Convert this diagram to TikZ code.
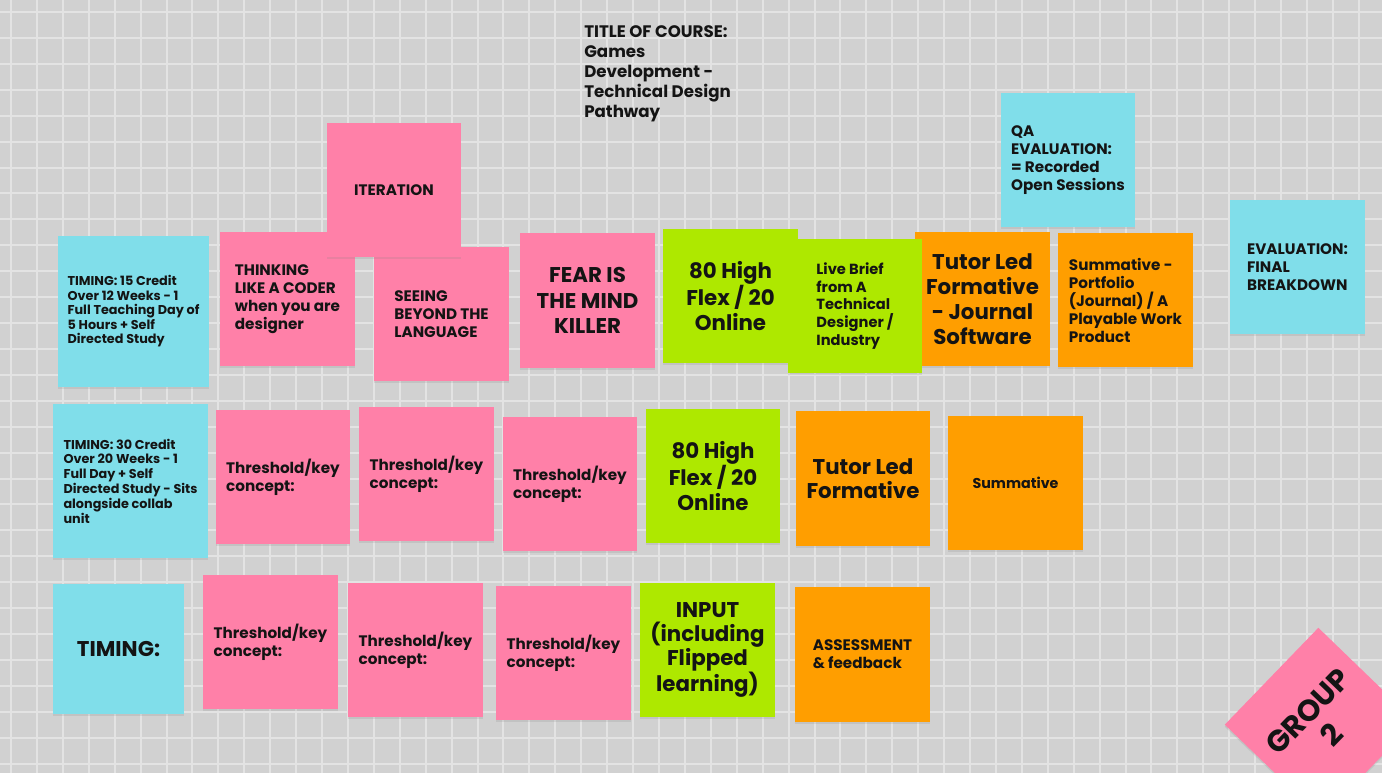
\documentclass[tikz,border=0pt]{standalone}
\usepackage{fontspec}
\setmainfont{Poppins}[UprightFont={* Bold},BoldFont={* Bold}]
\usepackage{xcolor}
\usepackage{tikz}
\usetikzlibrary{positioning,shadows}
\definecolor{boardgrey}{HTML}{D1D1D1}
\definecolor{gridgrey}{HTML}{E3E3E3}
\definecolor{notepink}{HTML}{FF80A8}
\definecolor{notecyan}{HTML}{80DEEA}
\definecolor{notegreen}{HTML}{AEE800}
\definecolor{noteorange}{HTML}{FF9E00}
\tikzset{
  stickynote/.style={inner sep=0pt,minimum width=101pt,minimum height=101pt,align=left,
    text=black!92,drop shadow={shadow xshift=0pt,shadow yshift=-1.5pt,opacity=.18}},
  pinknote/.style={stickynote,fill=notepink},
  cyannote/.style={stickynote,fill=notecyan},
  greennote/.style={stickynote,fill=notegreen},
  orangenote/.style={stickynote,fill=noteorange},
  smalltext/.style={font=\fontsize{9.6}{10.9}\selectfont},
  midtext/.style={font=\fontsize{11.4}{13.5}\selectfont},
  bigtext/.style={font=\fontsize{16}{18.9}\selectfont,align=center},
  gridline/.style={draw=gridgrey,line width=1.5pt}
}

\begin{document}
\begin{tikzpicture}[x=0.75pt,y=-0.75pt]
  \useasboundingbox (0,0) rectangle (1382,773);
  \clip (0,0) rectangle (1382,773);
  \fill[boardgrey] (0,0) rectangle (1382,773);
  \foreach \i in {0,...,52}
    \draw[gridline] ({11+25.92*\i},0) -- ({11+25.92*\i},773);
  \foreach \j in {0,...,29}
    \draw[gridline] (0,{12+25.92*\j}) -- (1382,{12+25.92*\j});

  \node[anchor=north west,inner sep=0pt,align=left,font=\fontsize{12.5}{15}\selectfont,text=black!92]
    (coursetitle) at (584,25) {TITLE OF COURSE:\\Games\\Development -\\Technical Design\\Pathway};

  \node[cyannote,smalltext,minimum width=113pt,minimum height=113pt] (timingfifteen) at (133.5,311.5)
    {TIMING: 15 Credit\\Over 12 Weeks - 1\\Full Teaching Day of\\5 Hours + Self\\Directed Study};
  \node[pinknote,midtext] (thinking) at (287.5,299) {THINKING\\LIKE A CODER\\when you are\\designer};
  \node[pinknote,midtext] (seeing) at (441.5,314) {SEEING\\BEYOND THE\\LANGUAGE};
  \node[pinknote,midtext] (iteration) at (394,190) {ITERATION};
  \node[pinknote,bigtext] (fear) at (587.5,300.5) {FEAR IS\\THE MIND\\KILLER};
  \node[greennote,bigtext] (flexone) at (730.5,296) {80 High\\Flex / 20\\Online};
  \node[orangenote,bigtext] (tutorjournal) at (982.5,299) {Tutor Led\\Formative\\- Journal\\Software};
  \node[greennote,font=\fontsize{11}{13.3}\selectfont] (livebrief) at (855,306)
    {Live Brief\\from A\\Technical\\Designer /\\Industry};
  \node[orangenote,midtext] (summportfolio) at (1125.5,300)
    {Summative -\\Portfolio\\(Journal) / A\\Playable Work\\Product};
  \node[cyannote,midtext] (qaeval) at (1068,160) {QA\\EVALUATION:\\= Recorded\\Open Sessions};
  \node[cyannote,midtext] (finaleval) at (1297.5,267) {EVALUATION:\\FINAL\\BREAKDOWN};

  \node[cyannote,font=\fontsize{9.6}{11.1}\selectfont,minimum width=116pt,minimum height=115.5pt]
    (timingthirty) at (130.5,481)
    {TIMING: 30 Credit\\Over 20 Weeks - 1\\Full Day + Self\\Directed Study - Sits\\alongside collab\\unit};
  \node[pinknote,midtext] (thresholdA) at (283,477) {Threshold/key\\concept:};
  \node[pinknote,midtext] (thresholdB) at (426.5,474) {Threshold/key\\concept:};
  \node[pinknote,midtext] (thresholdC) at (570,484) {Threshold/key\\concept:};
  \node[greennote,bigtext] (flextwo) at (713,476) {80 High\\Flex / 20\\Online};
  \node[orangenote,bigtext,font=\fontsize{16}{18.4}\selectfont] (tutorformative) at (863,478.5) {Tutor Led\\Formative};
  \node[orangenote,font=\fontsize{10.7}{13}\selectfont] (summative) at (1015.5,483) {Summative};

  \node[cyannote,bigtext,minimum width=98pt,minimum height=97.5pt] (timing) at (118.5,649) {TIMING:};
  \node[pinknote,midtext] (thresholdD) at (270.5,642) {Threshold/key\\concept:};
  \node[pinknote,midtext] (thresholdE) at (415.5,650) {Threshold/key\\concept:};
  \node[pinknote,midtext] (thresholdF) at (563.5,653) {Threshold/key\\concept:};
  \node[greennote,bigtext,font=\fontsize{16}{18}\selectfont] (input) at (707.5,650)
    {INPUT\\(including\\Flipped\\learning)};
  \node[orangenote,midtext] (assessment) at (862.5,654.5) {ASSESSMENT\\\& feedback};

  \node[pinknote,rotate=46,align=center,font=\fontsize{22.5}{25}\selectfont] (grouptwo) at (1320,723) {GROUP\\2};
\end{tikzpicture}
\end{document}
